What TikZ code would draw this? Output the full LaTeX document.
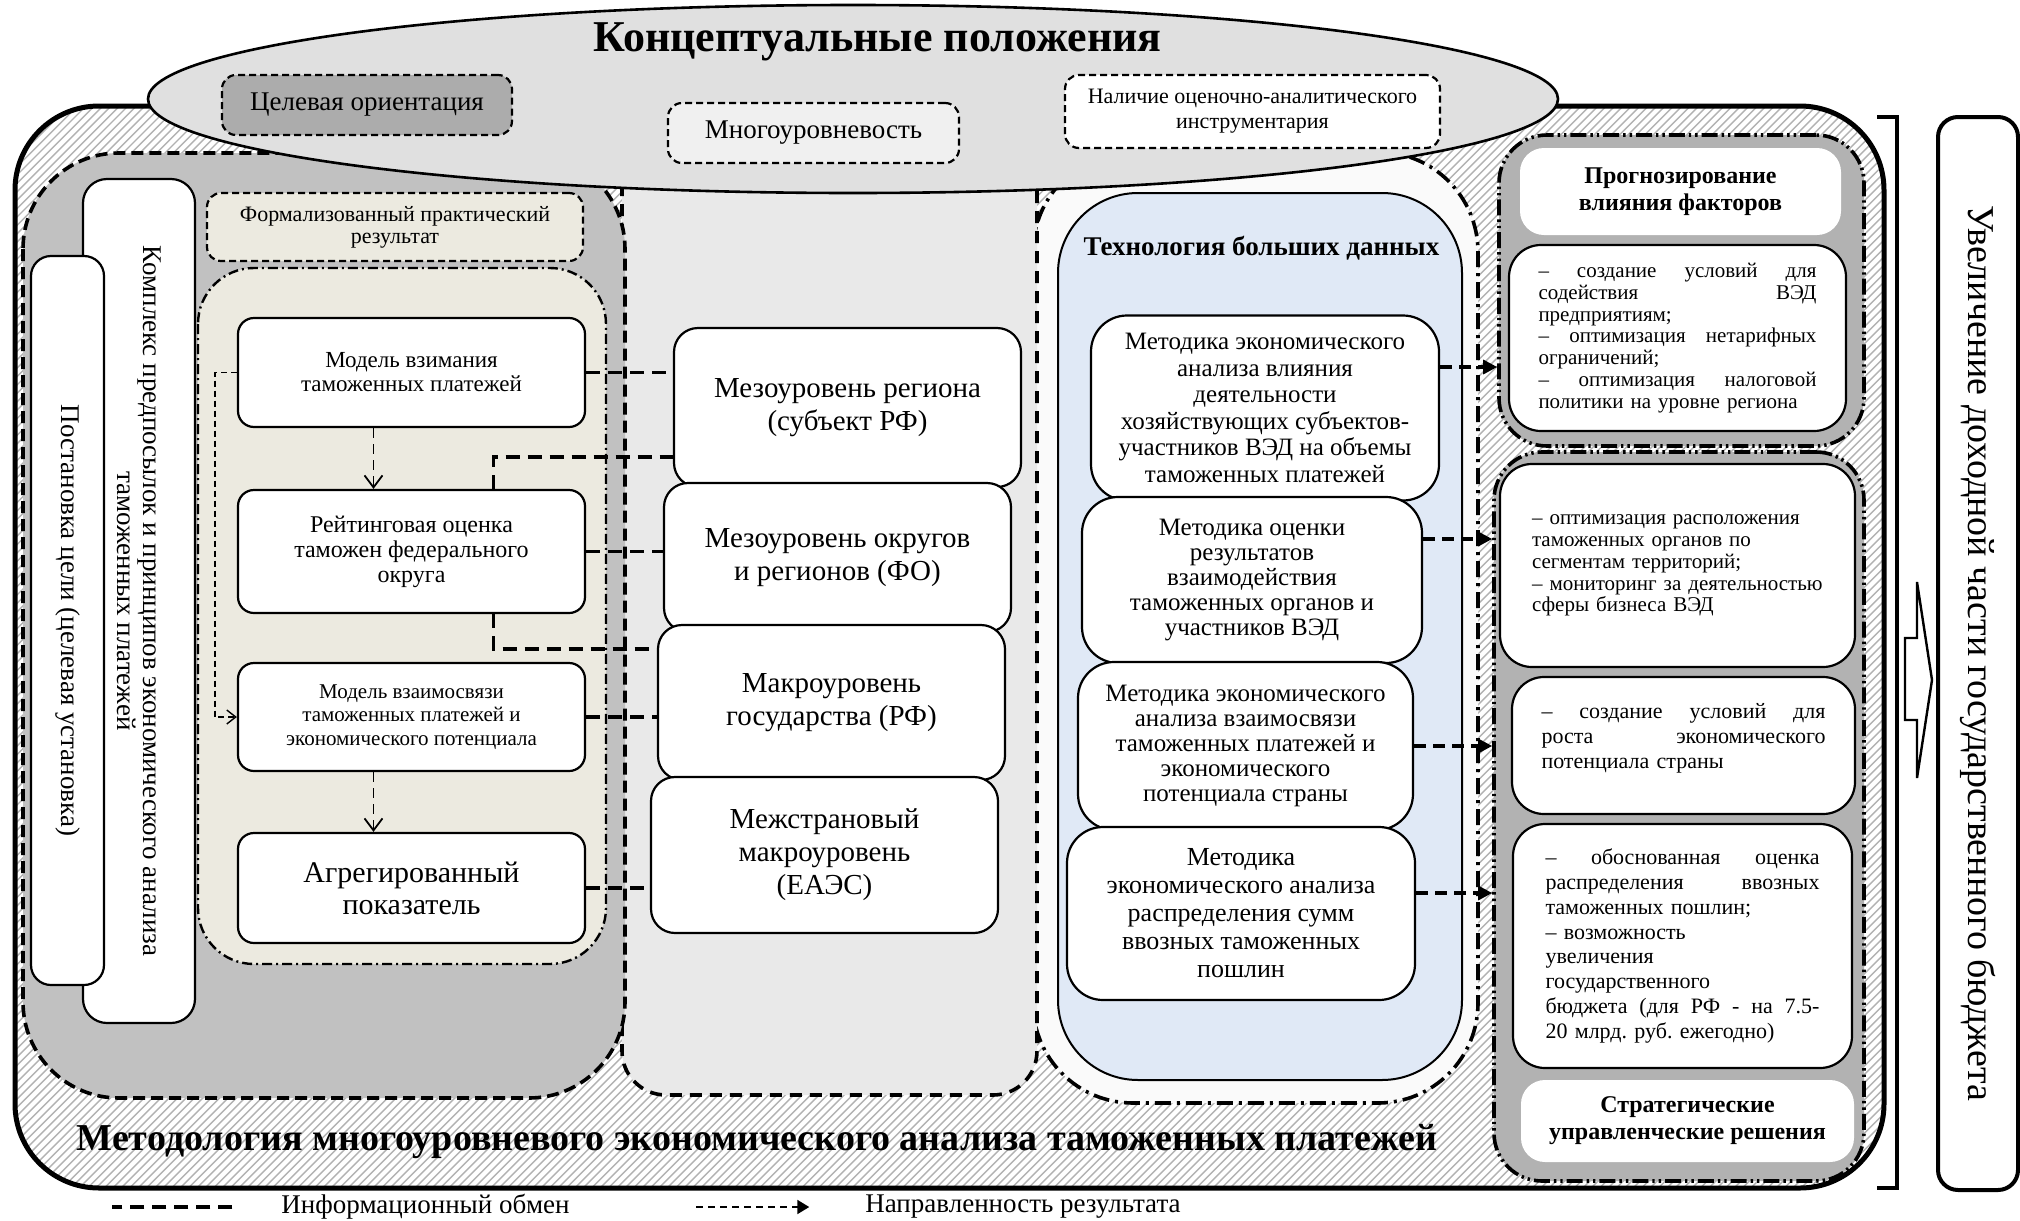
\documentclass[tikz,border=0pt]{standalone}
\usepackage{fontspec}
\setmainfont{Liberation Serif}
\usetikzlibrary{arrows.meta,positioning,calc}
\frenchspacing

\definecolor{beige}{RGB}{236,234,224}
\definecolor{regiongray}{RGB}{193,193,193}
\definecolor{bigdata}{RGB}{224,233,246}
\newcommand{\fs}[2]{\fontsize{#1pt}{#2pt}\selectfont}
\newcommand{\jl}[2]{\leavevmode\hbox to #1{\spaceskip=0.25em plus 1fil\relax #2}}

\tikzset{
  box/.style={draw, line width=1.1pt, fill=white, rounded corners=8pt, align=center, inner sep=0pt},
  mbox/.style={box, rounded corners=12pt, minimum width=173.5pt, font=\fs{14.5}{16.5}},
  lbox/.style={box, minimum width=173.5pt},
  tbox/.style={box, rounded corners=18pt},
  rbox/.style={box, rounded corners=16pt},
  plate/.style={fill=white, rounded corners=12pt, align=center, inner sep=0pt, font=\bfseries\fs{12}{13.5}},
  tag/.style={draw, line width=1.1pt, dash pattern=on 3.5pt off 2pt, rounded corners=7pt, align=center, inner sep=0pt},
  info/.style={line width=1.6pt, dash pattern=on 7pt off 4pt},
  result/.style={line width=1.6pt, dash pattern=on 6pt off 3.5pt, -{Triangle[length=7pt,width=7pt]}},
  flow/.style={line width=0.9pt, dash pattern=on 5pt off 3pt, -{Straight Barb[length=6pt,width=9pt]}},
  backflow/.style={line width=0.7pt, dash pattern=on 3pt off 2pt, -{Straight Barb[length=4.5pt,width=7pt]}},
  frame/.style={draw, line width=1.8pt, dash pattern=on 8pt off 2pt on 1.2pt off 2pt on 1.2pt off 2pt, rounded corners=24pt, fill=gray!60, inner sep=0pt},
}

\begin{document}
\begin{tikzpicture}[x=1pt,y=-1pt]
\useasboundingbox (0,0) rectangle (1010,610.5);

% methodology frame, hatched
\begin{scope}
  \clip[rounded corners=42pt] (7.5,53) rectangle (942,594);
  \fill[white] (7.5,53) rectangle (942,594);
  \foreach \i in {-540,-535.8,...,945}
    \draw[gray!60, line width=0.7pt] (\i,594) -- ++(541,-541);
\end{scope}
\draw[line width=2.5pt, rounded corners=42pt] (7.5,53) rectangle (942,594);

% regions
\draw[line width=1.8pt, dash pattern=on 8pt off 3pt on 1.5pt off 3pt, rounded corners=50pt, fill=gray!4] (516.5,76) rectangle (739,551.5);
\draw[line width=1.8pt, dash pattern=on 6pt off 4pt, rounded corners=22pt, fill=gray!17] (311,60) rectangle (518.5,547.5);
\draw[line width=1.8pt, dash pattern=on 6pt off 3pt, rounded corners=48pt, fill=regiongray] (11.5,76.5) rectangle (312.5,549);
\draw[line width=1pt, rounded corners=40pt, fill=bigdata] (529,96.5) rectangle (731,540);
\draw[line width=1.2pt, dash pattern=on 5pt off 2pt on 1pt off 2pt, rounded corners=28pt, fill=beige] (99,134) rectangle (303,482);

% right column
\node[frame, minimum width=182.5pt, minimum height=155.5pt] (colA) at (840.75,145.25) {};
\node[frame, minimum width=185pt, minimum height=364.5pt] (colB) at (839.5,408.25) {};

% concept ellipse
\draw[line width=1.3pt, fill=gray!24] (426.5,49.5) ellipse [x radius=352.5pt, y radius=47pt];
\node[font=\bfseries\fs{22}{24}] (concept) at (438.75,21) {Концептуальные положения};
\node[tag, fill=gray!65, minimum width=145pt, minimum height=30pt, font=\fs{13.5}{15}] (target) at (183.5,52.5) {Целевая ориентация};
\node[tag, fill=gray!12, minimum width=145.5pt, minimum height=30pt, font=\fs{13.5}{15}] (multi) at (406.75,66.5) {Многоуровневость};
\node[tag, fill=white, minimum width=187.5pt, minimum height=36.5pt, font=\fs{11}{12.5}] (tools) at (626.25,55.75) {Наличие оценочно-аналитического\\инструментария};

% left part
\node[box, rotate=-90, rounded corners=12pt, minimum width=422pt, minimum height=56pt, font=\fs{13.5}{13}] (premises) at (69.5,300.5) {Комплекс предпосылок и принципов экономического анализа\\таможенных платежей};
\node[box, rotate=-90, rounded corners=10pt, minimum width=364.5pt, minimum height=36.5pt, font=\fs{13.5}{14}] (goal) at (33.75,310.25) {Постановка цели (целевая установка)};
\node[tag, fill=beige, minimum width=188pt, minimum height=34pt, font=\fs{11}{11}] (formal) at (197.5,113.5) {Формализованный практический\\результат};

\node[lbox, minimum height=54.5pt, font=\fs{11.5}{12}] (L1) at (205.75,186.25) {Модель взимания\\таможенных платежей};
\node[lbox, minimum height=61.5pt, font=\fs{12}{12.5}] (L2) at (205.75,275.75) {Рейтинговая оценка\\таможен федерального\\округа};
\node[lbox, minimum height=54pt, font=\fs{10.5}{11.7}] (L3) at (205.75,358.5) {Модель взаимосвязи\\таможенных платежей и\\экономического потенциала};
\node[lbox, minimum height=55pt, font=\fs{15}{16}] (L4) at (205.75,444) {Агрегированный\\показатель};

% levels
\node[mbox, minimum height=79.5pt] (M1) at (423.75,203.75) {Мезоуровень региона\\(субъект РФ)};
\node[mbox, minimum height=74.5pt] (M2) at (418.75,278.75) {Мезоуровень округов\\и регионов (ФО)};
\node[mbox, minimum height=77.5pt] (M3) at (415.75,351.25) {Макроуровень\\государства (РФ)};
\node[mbox, minimum height=78pt] (M4) at (412.25,427.5) {Межстрановый\\макроуровень\\(ЕАЭС)};

% big data
\node[font=\bfseries\fs{13.5}{15}] (bigdata) at (630.75,124) {Технология больших данных};
\node[tbox, minimum width=174pt, minimum height=92.5pt, font=\fs{12.5}{13.3}] (T1) at (632.5,204) {Методика экономического\\анализа влияния\\деятельности\\хозяйствующих субъектов-\\участников ВЭД на объемы\\таможенных платежей};
\node[tbox, minimum width=170pt, minimum height=83pt, font=\fs{12.5}{12.5}] (T2) at (626,290) {Методика оценки\\результатов\\взаимодействия\\таможенных органов и\\участников ВЭД};
\node[tbox, minimum width=167.5pt, minimum height=84pt, font=\fs{12.5}{12.5}] (T3) at (622.75,373) {Методика экономического\\анализа взаимосвязи\\таможенных платежей и\\экономического\\потенциала страны};
\node[tbox, minimum width=174pt, minimum height=86.5pt, font=\fs{13}{14}] (T4) at (620.5,456.75) {Методика\\экономического анализа\\распределения сумм\\ввозных таможенных\\пошлин};

% results
\node[plate, minimum width=160.5pt, minimum height=43.5pt] (forecast) at (840.25,95.75) {Прогнозирование\\влияния факторов};
\node[rbox, minimum width=168.5pt, minimum height=93pt, text width=139pt, align=left, font=\fs{10.5}{10.9}] (B1) at (838.75,169) {\jl{139pt}{– создание условий для}\\\jl{139pt}{содействия ВЭД}\\предприятиям;\\\jl{139pt}{– оптимизация нетарифных}\\ограничений;\\\jl{139pt}{– оптимизация налоговой}\\политики на уровне региона};
\node[rbox, minimum width=177.5pt, minimum height=101.5pt, text width=145.5pt, align=left, font=\fs{10.5}{10.9}] (B2) at (838.75,282.75) {– оптимизация расположения\\таможенных органов по\\сегментам территорий;\\– мониторинг за деятельностью\\сферы бизнеса ВЭД};
\node[rbox, minimum width=171.5pt, minimum height=68.5pt, text width=142pt, align=left, font=\fs{11}{12.5}] (B3) at (841.75,372.75) {\jl{142pt}{– создание условий для}\\\jl{142pt}{роста экономического}\\потенциала страны\\[-3pt]\mbox{}};
\node[rbox, minimum width=169.5pt, minimum height=122pt, text width=137pt, align=left, font=\fs{11}{12.4}] (B4) at (841.25,473) {\jl{137pt}{– обоснованная оценка}\\\jl{137pt}{распределения ввозных}\\таможенных пошлин;\\– возможность\\увеличения\\государственного\\\jl{137pt}{бюджета (для РФ - на 7.5-}\\20 млрд. руб. ежегодно)};
\node[plate, minimum width=166.5pt, minimum height=41pt] (strategy) at (843.75,560.5) {Стратегические\\управленческие решения};

\node[font=\bfseries\fs{19}{21}] (method) at (378.5,571) {Методология многоуровневого экономического анализа таможенных платежей};

% budget
\draw[line width=2pt] (938.5,58.5) -- (948.5,58.5) -- (948.5,594) -- (938.5,594);
\node[box, rotate=-90, line width=2pt, rounded corners=10pt, minimum width=536.5pt, minimum height=40pt, font=\fs{19}{20}] (budget) at (989,326.75) {Увеличение доходной части государственного бюджета};
\draw[line width=1.2pt, fill=white] (952.5,319) -- (958.5,319) -- (958.5,291) -- (966,340) -- (958.5,389) -- (958.5,360) -- (952.5,360) -- cycle;

% connections
\draw[flow] ([xshift=-19pt]L1.south) -- ([xshift=-19pt]L2.north);
\draw[flow] ([xshift=-19pt]L3.south) -- ([xshift=-19pt]L4.north);
\draw[backflow] (L1.west) -- ++(-11,0) |- (L3.west);
\draw[info] (L1.east) -- (L1.east -| M1.west);
\draw[info] ([xshift=41pt]L2.north) |- ([yshift=-24.75pt]M1.west);
\draw[info] (L2.east) -- (L2.east -| M2.west);
\draw[info] ([xshift=41pt]L2.south) |- ([yshift=26.75pt]M3.west);
\draw[info] (L3.east) -- (L3.east -| M3.west);
\draw[info] (L4.east) -- (L4.east -| M4.west);
\draw[result] ([yshift=20.5pt]T1.east) -- ([yshift=20.5pt]T1.east -| colA.west);
\draw[result] ([yshift=20.5pt]T2.east) -- ([yshift=20.5pt]T2.east -| colB.west);
\draw[result] (T3.east) -- (T3.east -| colB.west);
\draw[result] ([yshift=10.25pt]T4.east) -- ([yshift=10.25pt]T4.east -| colB.west);

% legend
\node[font=\fs{13.5}{15}] (leginfo) at (212.75,603.5) {Информационный обмен};
\node[font=\fs{13.5}{15}] (legres) at (511.5,603.5) {Направленность результата};
\draw[info] ([xshift=-21pt]leginfo.west) -- ++(-60,0);
\draw[line width=1pt, dash pattern=on 3.5pt off 2.5pt, -{Triangle[length=6pt,width=7pt]}] ([xshift=-81pt]legres.west) -- ([xshift=-24.5pt]legres.west);
\end{tikzpicture}
\end{document}
